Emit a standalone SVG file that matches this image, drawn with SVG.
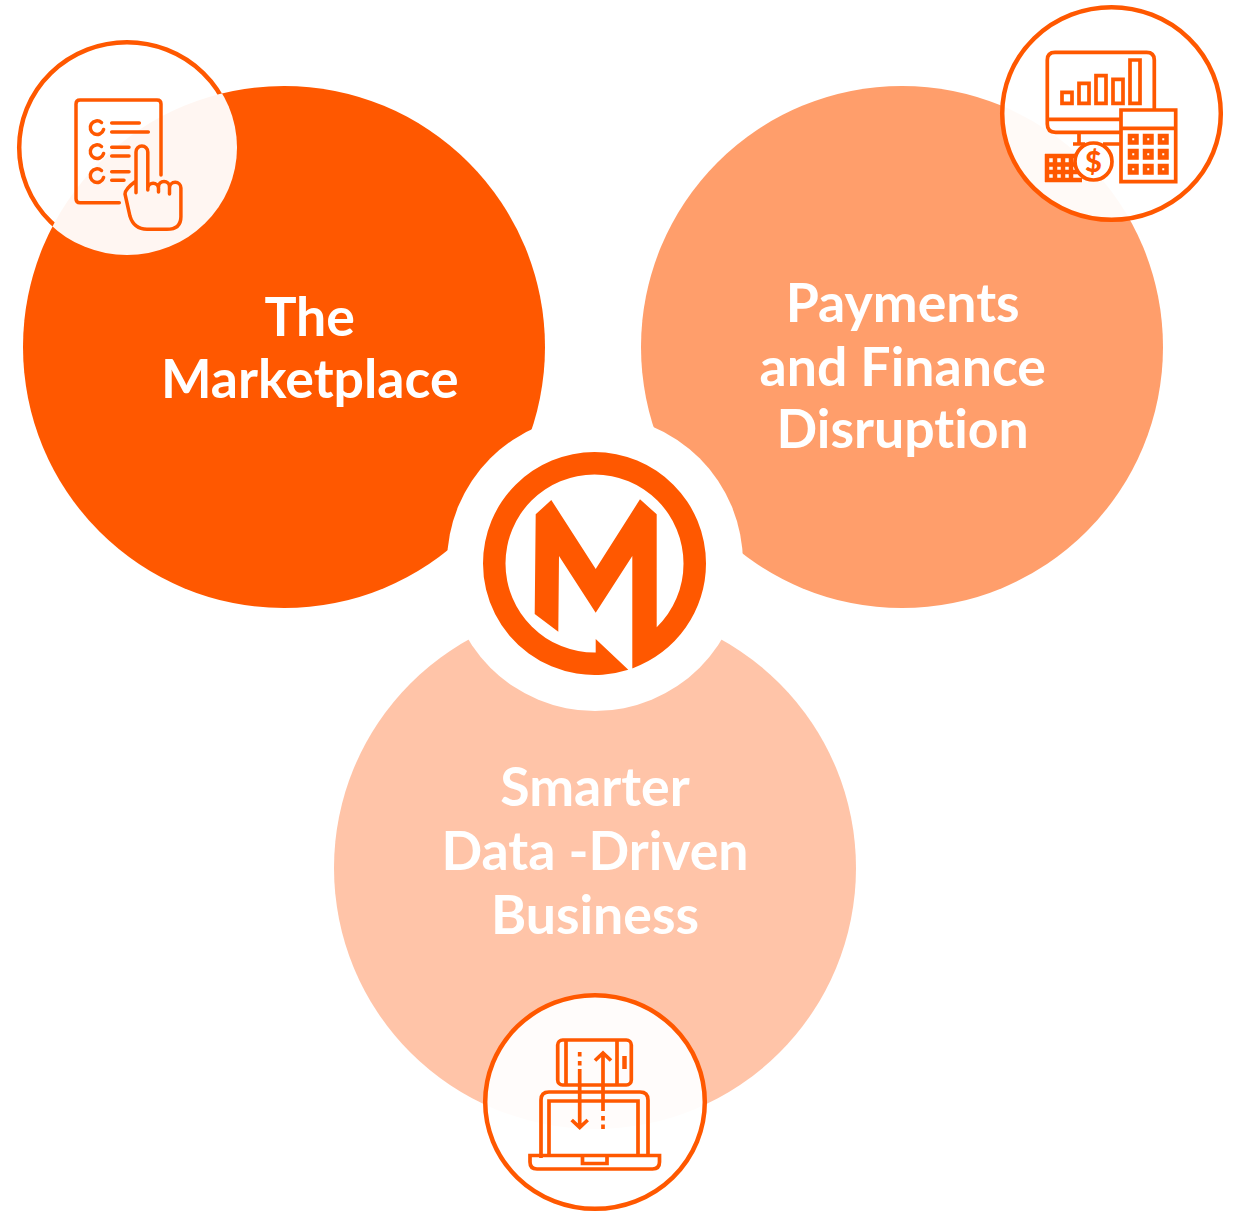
<svg xmlns="http://www.w3.org/2000/svg" width="1235" height="1215" viewBox="0 0 1235 1215">
<style>
.lbl{font-family:"Lato","Liberation Sans",sans-serif;font-size:53.600px;font-weight:700;fill:#fff;text-anchor:middle;font-variant-ligatures:none}
.badge{fill:#fff;fill-opacity:.95;stroke:#ff5800;stroke-width:4.500}
.ic{fill:none;stroke:#ff5800;stroke-width:3.500;stroke-linecap:round;stroke-linejoin:round}
.sq{fill:none;stroke:#ff5800;stroke-width:3.700;stroke-linejoin:miter}
.logo{fill:#ff5800}
</style>
<defs>
<clipPath id="outsideBig"><path clip-rule="evenodd" d="M0,0H300V300H0ZM23,347A261 261 0 0 1 545,347A261 261 0 0 1 23,347Z"/></clipPath>
</defs>
<rect width="1235" height="1215" fill="#fff"/>
<g id="marketplace"><circle cx="284" cy="347" r="261" fill="#ff5800"/></g>
<g id="payments"><circle cx="902" cy="347" r="261" fill="#ff9e6b"/></g>
<g id="smarter"><circle cx="595" cy="868" r="261" fill="#ffc4a8"/></g>
<g id="hub">
<circle cx="595" cy="563" r="148" fill="#fff"/>
<path class="logo" d="M628.300,669.750A111.500 111.500 0 0 1 483,563.500A111.500 111.500 0 0 1 706,563.500A111.500 111.500 0 0 1 632.300,668.400L656.700,627.300A89 89 0 0 0 683.500,563.500A89 89 0 0 0 505.500,563.500A89 89 0 0 0 595.700,652.500V639Z"/>
<path class="logo" d="M535.700,514.300 551.300,500 595.700,569 640,499.300 656.700,514.300V627.300L670,630 638,663 632.300,668.300V556L595.700,612.700 559,556 558.300,631.700 534.700,614Z"/>
</g>
<g id="marketplace-label"><text class="lbl" x="309.700" y="336">The</text><text class="lbl" x="309.700" y="398">Marketplace</text></g>
<g id="payments-label"><text class="lbl" x="902.700" y="322">Payments</text><text class="lbl" x="902.700" y="386">and Finance</text><text class="lbl" x="902.700" y="448">Disruption</text></g>
<g id="smarter-label"><text class="lbl" x="595" y="806">Smarter</text><text class="lbl" x="595" y="870">Data -Driven</text><text class="lbl" x="595" y="934">Business</text></g>
<g id="icon-marketplace">
<ellipse cx="127" cy="147.500" rx="110" ry="107.500" fill="#fff" fill-opacity=".95"/>
<ellipse cx="127" cy="147.500" rx="107.800" ry="105.300" fill="none" stroke="#ff5800" stroke-width="4.500" clip-path="url(#outsideBig)"/>
<g class="ic">
<path d="M119.300,202.700H80q-4,0-4-4V104q0-4,4-4H157q4,0,4,4V175"/>
<path d="M101.500,122.500A6.800 6.800 0 1 0 103.600,129.500M101.500,146.500A6.800 6.800 0 1 0 103.600,153.500M101.500,170.500A6.800 6.800 0 1 0 103.600,177.500"/>
<path d="M111.700,123H139.300M111.700,132H148.300M111.700,147.300H129M111.700,156H129M111.700,171.700H129M111.700,180.300H124"/>
<path d="M136,192.700V152a5.900 5.900 0 0 1 11.800,0V190M147.800,188a5.400 5.400 0 0 1 10.700,0V192M158.500,187a5.500 5.500 0 0 1 11,0V194M169.500,188a5.700 5.700 0 0 1 11.400,0V216.700q0,12.600-14,12.600H147q-13,0-17-13L125,194q0-5,11-13"/>
</g>
</g>
<g id="icon-payments">
<ellipse class="badge" cx="1111.500" cy="113.500" rx="109.300" ry="106.300"/>
<g class="sq">
<path d="M1154.300,109V60q0-7.700-7.700-7.700H1055q-7.700,0-7.700,7.700V124q0,8.300,8.300,8.300H1120M1047.300,119.300H1120M1079,133V144M1073,144H1085M1103,144H1120"/>
<path d="M1062,92.300h10v11h-10zM1079,83.300h10v20h-10zM1096,75.700h10v27.600h-10zM1113,79.300h10v24h-10zM1130,60h10v43.300h-10z"/>
<path d="M1121,110h54.700v71.700H1121zM1121,128.300h54.700"/>
<path stroke-width="4.500" d="M1130,136h6.500v6.500h-6.500zM1145,136h6.500v6.500h-6.500zM1160,136h6.500v6.500h-6.500zM1130,151h6.500v6.500h-6.500zM1145,151h6.500v6.500h-6.500zM1160,151h6.500v6.500h-6.500zM1130,166h6.500v6.500h-6.500zM1145,166h6.500v6.500h-6.500zM1160,166h6.500v6.500h-6.500z"/>
<path stroke-width="4.500" d="M1045,156H1082M1045,164.500H1082M1045,172H1082M1045,180H1082M1047,154V182M1055,154V182M1063,154V182M1071,154V182"/>
</g>
<circle cx="1093.500" cy="161.500" r="18.500" fill="#fff" stroke="#ff5800" stroke-width="3.700"/>
<text x="1093.500" y="171.500" font-family="Lato,'Liberation Sans',sans-serif" font-size="29" font-weight="900" fill="#ff5800" text-anchor="middle">$</text>
</g>
<g id="icon-smarter">
<ellipse class="badge" cx="595" cy="1102" rx="109.800" ry="106.800"/>
<g class="sq">
<rect x="557.700" y="1040" width="73.600" height="45" rx="5"/>
<path d="M566,1040V1085M617,1040V1085"/>
<path stroke-width="4.500" d="M624.500,1056V1069"/>
<path d="M541,1158V1100q0-8,8-8H640q8,0,8,8V1155M549,1155V1101H638V1155"/>
<path d="M530,1155.500H659.500V1162q0,7-7,7H537q-7,0-7-7ZM582.500,1157V1163.500H607V1157"/>
<path d="M579.700,1052V1056.500M579.700,1061V1065.500M579.700,1069V1127M571.700,1120l8,7.500 8-7.500"/>
<path d="M603,1053V1111M595,1060.500l8-7.500 8,7.500M603,1116V1120.500M603,1124.500V1129"/>
</g>
</g>
</svg>
